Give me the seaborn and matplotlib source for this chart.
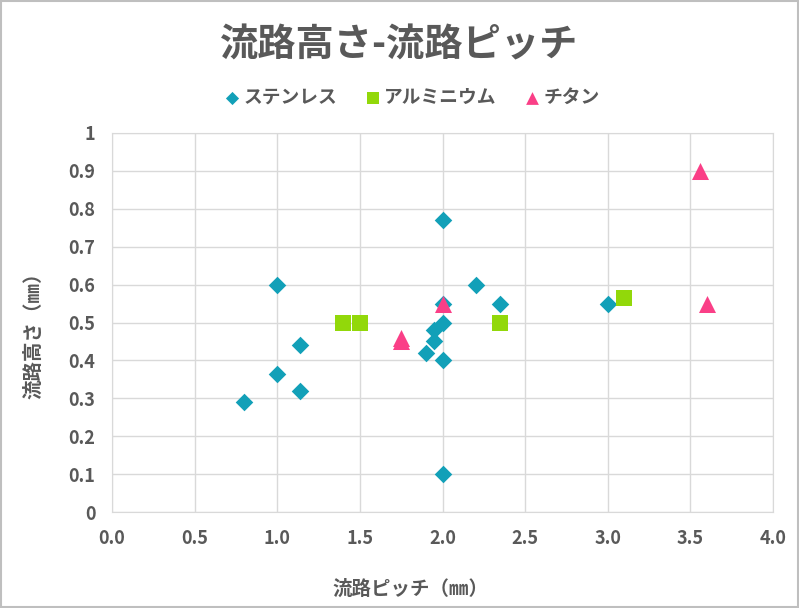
import matplotlib
matplotlib.use("Agg")
from matplotlib import pyplot as plt
from matplotlib.patches import Rectangle
import seaborn as sns
import pandas as pd

# データ (流路ピッチ, 流路高さ)
sus_x = [0.8, 1.0, 1.0, 1.14, 1.14, 1.9, 1.95, 1.95, 2.0, 2.0, 2.0, 2.0, 2.0, 2.2, 2.35, 3.0]
sus_y = [0.29, 0.6, 0.365, 0.44, 0.32, 0.42, 0.45, 0.48, 0.1, 0.4, 0.5, 0.55, 0.77, 0.6, 0.55, 0.55]
al_x = [1.4, 1.5, 2.35, 3.1]
al_y = [0.5, 0.5, 0.5, 0.565]
ti_x = [1.75, 1.75, 2.0, 3.56, 3.6]
ti_y = [0.46, 0.45, 0.55, 0.9, 0.55]

series = [
    ("ステンレス", sus_x, sus_y, "#12a0b8", "D", 80),
    ("アルミニウム", al_x, al_y, "#92d80a", "s", 120),
    ("チタン", ti_x, ti_y, "#fa3f87", "^", 150),
]

sns.set_style("white")
plt.rcParams["font.family"] = ["Noto Sans CJK JP", "DejaVu Sans"]
grey = "#595959"

fig = plt.figure(figsize=(7.99, 6.08), dpi=100)
ax = fig.add_axes([112 / 799, 1 - 512 / 608, 661 / 799, 379 / 608])

for name, xs, ys, col, mk, sz in series:
    d = pd.DataFrame({"x": xs, "y": ys})
    sns.scatterplot(data=d, x="x", y="y", color=col, marker=mk, s=sz,
                    linewidth=0, label=name, ax=ax, zorder=3)

ax.set_xlim(0, 4)
ax.set_ylim(0, 1)
ax.set_xticks([i * 0.5 for i in range(9)])
ax.set_xticklabels([f"{i * 0.5:.1f}" for i in range(9)])
ax.set_yticks([i / 10 for i in range(11)])
ax.set_yticklabels(["0"] + [f"{i / 10:.1f}" for i in range(1, 10)] + ["1"])
ax.grid(True, color="#d9d9d9", linewidth=1)
ax.set_axisbelow(True)
for sp in ax.spines.values():
    sp.set_color("#d9d9d9")
ax.tick_params(length=0, labelsize=13, colors=grey, pad=12)
for lb in ax.get_xticklabels() + ax.get_yticklabels():
    lb.set_fontweight("bold")

ax.set_xlabel("流路ピッチ（㎜）", fontsize=14, fontweight="bold", color=grey)
ax.set_ylabel("流路高さ（㎜）", fontsize=14, fontweight="bold", color=grey)
ax.xaxis.set_label_coords((410 - 112) / 661, (512 - 580) / 379)
ax.yaxis.set_label_coords((43 - 112) / 661, (512 - 331) / 379)

fig.text(0.5, 1 - 45 / 608, "流路高さ-流路ピッチ", ha="center", va="center",
         fontsize=27.5, fontweight="bold", color=grey)

leg = ax.legend(loc="center", bbox_to_anchor=((410 - 112) / 661, (512 - 97) / 379),
                ncol=3, frameon=False, fontsize=13.5, handletextpad=0.0,
                handlelength=1.2, columnspacing=1.3, markerscale=0.75)
for t in leg.get_texts():
    t.set_fontweight("bold")
    t.set_color(grey)

fig.patches.append(Rectangle((0.001, 0.001), 0.998, 0.997, transform=fig.transFigure,
                             fill=False, edgecolor="#bfbfbf", linewidth=1.5))

fig.savefig("out.png", dpi=100)
